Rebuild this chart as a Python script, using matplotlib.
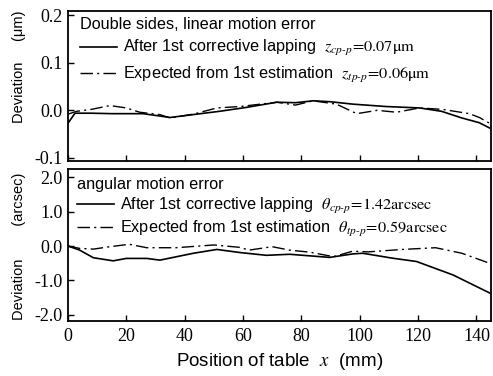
import matplotlib
matplotlib.use("Agg")
import matplotlib.pyplot as plt
from matplotlib.lines import Line2D

plt.rcParams['mathtext.fontset'] = 'stix'
plt.rcParams['axes.unicode_minus'] = False
plt.rcParams['font.family'] = ['Liberation Sans', 'DejaVu Sans']

# ---- data ----
x_ticks = [0, 20, 40, 60, 80, 100, 120, 140]
x_tick_labels = ['0', '20', '40', '60', '80', '100', '120', '140']

top_yticks = [-0.1, 0.0, 0.1, 0.2]
top_ytick_labels = ['-0.1', '0.0', '0.1', '0.2']
bot_yticks = [-2.0, -1.0, 0.0, 1.0, 2.0]
bot_ytick_labels = ['-2.0', '-1.0', '0.0', '1.0', '2.0']

# linear motion error (um)
lin_after_x = [0, 2.4, 8, 15, 25.7, 35, 42.8, 52, 61, 71.6, 78, 84, 90, 97.6, 109, 120.5, 128, 135, 141, 144.5]
lin_after_y = [-0.027, -0.006, -0.006, -0.007, -0.007, -0.015, -0.009, -0.002, 0.006, 0.017,
               0.016, 0.020, 0.018, 0.013, 0.008, 0.005, -0.002, -0.016, -0.026, -0.037]
lin_exp_x = [0, 3, 8, 14.4, 20, 24.6, 31.5, 35, 43, 51, 59, 66, 71.6, 78, 84, 92, 99, 106,
             112.6, 120.5, 128.4, 137.6, 141, 144.5]
lin_exp_y = [-0.008, -0.002, 0.002, 0.010, 0.005, -0.004, -0.009, -0.016, -0.008, 0.005, 0.008,
             0.013, 0.017, 0.011, 0.020, 0.013, -0.007, 0.000, -0.004, 0.005, 0.002, -0.007, -0.015, -0.027]

# angular motion error (arcsec)
ang_after_x = [0, 4, 8.7, 15.5, 20, 27, 31.5, 43, 51, 59, 68, 76, 89.7, 97.6, 101, 111, 119.5, 132, 144.5]
ang_after_y = [0.0, -0.12, -0.34, -0.43, -0.36, -0.36, -0.41, -0.21, -0.10, -0.19, -0.27, -0.24,
               -0.33, -0.23, -0.21, -0.35, -0.45, -0.84, -1.36]
ang_exp_x = [0, 4, 8.7, 14.4, 21, 27, 37, 50, 59, 62, 70, 76, 83, 91, 97.6, 103, 114.6, 126, 135, 144.5]
ang_exp_y = [0.0, -0.07, -0.09, -0.02, 0.05, -0.05, -0.05, 0.03, -0.04, -0.12, -0.02, -0.12,
             -0.18, -0.31, -0.15, -0.17, -0.10, -0.05, -0.21, -0.50]

lbl_after = 'After 1st corrective lapping'
lbl_exp = 'Expected from 1st estimation'
top_title = 'Double sides, linear motion error'
bot_title = 'angular motion error'
top_after_val = r'$z_{cp\text{-}p}\!\mathrm{=}\!\mathrm{0.07\mu m}$'
top_exp_val = r'$z_{tp\text{-}p}\!\mathrm{=}\!\mathrm{0.06\mu m}$'
bot_after_val = r'$\theta_{cp\text{-}p}\!\mathrm{=}\!\mathrm{1.42arcsec}$'
bot_exp_val = r'$\theta_{tp\text{-}p}\!\mathrm{=}\!\mathrm{0.59arcsec}$'

W, H = 493, 376
fig = plt.figure(figsize=(W / 100, H / 100), dpi=100)
ax1 = fig.add_axes([68 / W, 1 - 161 / H, 423 / W, 150 / H])
ax2 = fig.add_axes([68 / W, 1 - 321 / H, 423 / W, 152 / H])

dashdot = (0, (9, 3, 1.5, 3))
lw_s = 1.2
lw_d = 1.0

ax1.plot(lin_after_x, lin_after_y, color='black', lw=lw_s, ls='-')
ax1.plot(lin_exp_x, lin_exp_y, color='black', lw=lw_d, ls=dashdot)
ax2.plot(ang_after_x, ang_after_y, color='black', lw=lw_s, ls='-')
ax2.plot(ang_exp_x, ang_exp_y, color='black', lw=lw_d, ls=dashdot)

ax1.set_xlim(0, 145)
ax2.set_xlim(0, 145)
ax1.set_ylim(-0.1063, 0.2084)
ax2.set_ylim(-2.174, 2.232)

serif = 'Liberation Serif'
for ax, yt, ytl in [(ax1, top_yticks, top_ytick_labels), (ax2, bot_yticks, bot_ytick_labels)]:
    ax.set_xticks(x_ticks)
    ax.set_yticks(yt)
    ax.set_yticklabels(ytl, family=serif, fontsize=13)
    ax.tick_params(direction='in', length=4, width=1.0, pad=4, top=False, right=False)
    for sp in ax.spines.values():
        sp.set_linewidth(1.3)
ax1.set_xticklabels([])
ax2.set_xticklabels(x_tick_labels, family=serif, fontsize=13)
ax2.tick_params(axis='x', pad=5)

handles = [Line2D([], [], color='black', lw=lw_s, ls='-'),
           Line2D([], [], color='black', lw=lw_d, ls=dashdot)]

fs = 11.7
leg1 = ax1.legend(handles, [lbl_after + '  ' + top_after_val, lbl_exp + '  ' + top_exp_val],
                  title=top_title, alignment='left', loc='upper left',
                  bbox_to_anchor=(0.028, 0.96), frameon=False, fontsize=fs,
                  title_fontsize=fs, handlelength=2.3, handletextpad=0.35,
                  borderpad=0, borderaxespad=0, labelspacing=0.4)
leg2 = ax2.legend(handles, [lbl_after + '  ' + bot_after_val, lbl_exp + '  ' + bot_exp_val],
                  title=bot_title, alignment='left', loc='upper left',
                  bbox_to_anchor=(0.021, 0.945), frameon=False, fontsize=fs,
                  title_fontsize=fs, handlelength=2.3, handletextpad=0.35,
                  borderpad=0, borderaxespad=0, labelspacing=0.2)

fig.text(280 / W, 1 - 362 / H, r'Position of table  $x$  (mm)', ha='center', va='center',
         fontsize=13.5)
fig.text(19 / W, 1 - 67 / H, 'Deviation     (μm)', rotation=90, ha='center', va='center',
         fontsize=10.5)
fig.text(19 / W, 1 - 246 / H, 'Deviation        (arcsec)', rotation=90, ha='center', va='center',
         fontsize=10.5)

fig.savefig('out.png', dpi=100)
